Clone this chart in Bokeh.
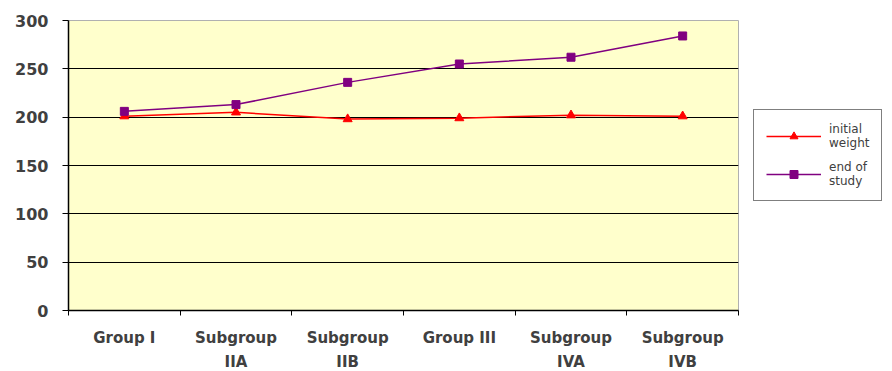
from bokeh.plotting import figure
from bokeh.models import FixedTicker, Range1d, Legend, LegendItem
from bokeh.embed import file_html
from bokeh.resources import INLINE

categories = ["Group I", "Subgroup\nIIA", "Subgroup\nIIB", "Group III", "Subgroup\nIVA", "Subgroup\nIVB"]
initial_weight = [201, 205, 198, 199, 202, 201]
end_of_study = [206, 213, 236, 255, 262, 284]
y_ticks = [0, 50, 100, 150, 200, 250, 300]

xs = [i + 0.5 for i in range(len(categories))]

p = figure(width=876, height=355, output_backend="svg", toolbar_location=None,
           x_range=Range1d(0, len(categories)), y_range=Range1d(0, 300),
           min_border_left=68, min_border_top=20, min_border_bottom=10, min_border_right=10)
p.frame_width = 670
p.frame_height = 290
p.border_fill_color = "white"
p.outline_line_color = "#b0b0b0"
p.background_fill_color = "#FFFFCC"

r1 = p.line(xs, initial_weight, line_color="#FF0000", line_width=1.5)
m1 = p.scatter(xs, initial_weight, marker="triangle", size=9, fill_color="#FF0000", line_color="#FF0000")
r2 = p.line(xs, end_of_study, line_color="#800080", line_width=1.5)
m2 = p.scatter(xs, end_of_study, marker="square", size=8, fill_color="#800080", line_color="#800080")

# x axis
p.xaxis.ticker = FixedTicker(ticks=xs, minor_ticks=list(range(len(categories) + 1)))
p.xaxis.major_label_overrides = {x: c for x, c in zip(xs, categories)}
p.xaxis.major_tick_line_color = None
p.xaxis.minor_tick_line_color = "black"
p.xaxis.minor_tick_out = 5
p.xaxis.minor_tick_in = 0
p.xaxis.axis_line_color = "black"
p.xaxis.axis_line_width = 1.5
p.xaxis.major_label_text_font = "DejaVu Sans"
p.xaxis.major_label_text_font_style = "bold"
p.xaxis.major_label_text_font_size = "15px"
p.xaxis.major_label_text_color = "#404040"
p.xaxis.major_label_text_line_height = 1.35
p.xaxis.major_label_standoff = 12

# y axis
p.yaxis.ticker = FixedTicker(ticks=y_ticks)
p.yaxis.minor_tick_line_color = None
p.yaxis.major_tick_out = 6
p.yaxis.major_tick_in = 0
p.yaxis.axis_line_color = "black"
p.yaxis.axis_line_width = 1.5
p.yaxis.major_label_text_font = "DejaVu Sans"
p.yaxis.major_label_text_font_style = "bold"
p.yaxis.major_label_text_font_size = "16px"
p.yaxis.major_label_text_color = "#404040"
p.yaxis.major_label_standoff = 14

p.xgrid.grid_line_color = None
p.ygrid.ticker = FixedTicker(ticks=y_ticks[1:-1])
p.ygrid.grid_line_color = "black"
p.ygrid.grid_line_width = 1.2

legend = Legend(items=[LegendItem(label="initial\nweight", renderers=[r1, m1]),
                       LegendItem(label="end of\nstudy", renderers=[r2, m2])],
                location=(15, 109), border_line_color="black", border_line_width=1,
                background_fill_color="white", label_text_font="DejaVu Sans",
                label_text_font_size="12px", label_text_color="#404040",
                glyph_width=55, glyph_height=20, spacing=10, padding=12, margin=0,
                label_standoff=8)
p.add_layout(legend, "right")

open("out.html", "w").write(file_html(p, INLINE))
